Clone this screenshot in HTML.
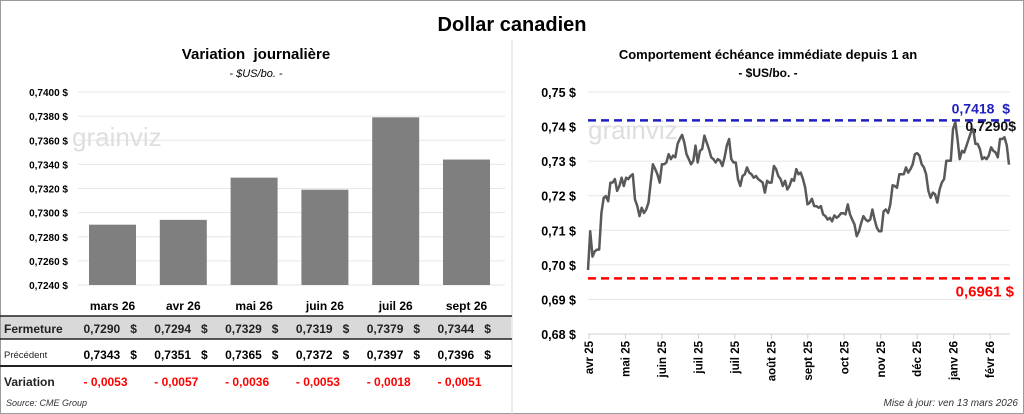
<!DOCTYPE html>
<html><head><meta charset="utf-8">
<style>
body{margin:0;background:#fff;font-family:"Liberation Sans",sans-serif;}
svg{display:block}
text{font-family:"Liberation Sans",sans-serif;white-space:pre;}
</style></head>
<body>
<svg width="1024" height="414" viewBox="0 0 1024 414">
<rect x="0.5" y="0.5" width="1023" height="413" fill="#fff" stroke="#9a9a9a"/>
<text x="512" y="31" text-anchor="middle" font-size="20" font-weight="bold">Dollar canadien</text>
<line x1="512" y1="40" x2="512" y2="414" stroke="#d8d8d8"/>
<text x="256" y="59" text-anchor="middle" font-size="15" font-weight="bold">Variation  journalière</text>
<text x="256" y="77" text-anchor="middle" font-size="11" font-style="italic">- $US/bo. -</text>
<text x="768" y="59" text-anchor="middle" font-size="13" font-weight="bold">Comportement échéance immédiate depuis 1 an</text>
<text x="768" y="77" text-anchor="middle" font-size="12" font-weight="bold">- $US/bo. -</text>
<g id="left"></g>
<g id="table"></g>
<g id="right"></g>
<text x="6" y="406" font-size="9" font-style="italic" fill="#333">Source: CME Group</text>
<text x="1018" y="406" text-anchor="end" font-size="10" font-style="italic" fill="#333">Mise à jour: ven 13 mars 2026</text>
</svg>
<script>
const NS="http://www.w3.org/2000/svg";
function mk(p,t,a,txt){const e=document.createElementNS(NS,t);for(const k in a)e.setAttribute(k,a[k]);if(txt!==undefined)e.textContent=txt;p.appendChild(e);return e;}

// Left bar chart data
const months=["mars 26","avr 26","mai 26","juin 26","juil 26","sept 26"];
const closeVals=[0.7290,0.7294,0.7329,0.7319,0.7379,0.7344];
const prevVals=[0.7343,0.7351,0.7365,0.7372,0.7397,0.7396];
const varLabels=["- 0,0053","- 0,0057","- 0,0036","- 0,0053","- 0,0018","- 0,0051"];
const yTicksL=[0.7240,0.7260,0.7280,0.7300,0.7320,0.7340,0.7360,0.7380,0.7400];

const L=document.getElementById('left');
const yL=v=>285-(v-0.7240)/0.0160*193;
const xL=i=>112.5+i*70.8;
const fmt4=v=>v.toFixed(4).replace('.',',');
yTicksL.forEach(v=>{
  const g=mk(L,'line',{x1:78,x2:505,y1:yL(v),y2:yL(v),stroke:'#e6e6e6'});
  
  
  const t=mk(L,'text',{x:68,y:yL(v)+4,'text-anchor':'end','font-size':10,'font-weight':'bold'},fmt4(v)+' $');
  
  
});
const wm=mk(L,'text',{x:72,y:146,'font-size':26,fill:'#dedede'},'grainviz');


closeVals.forEach((v,i)=>{
  const b=mk(L,'rect',{x:xL(i)-23.5,y:yL(v),width:47,height:285-yL(v),fill:'#7f7f7f'});
  
  
  const t=mk(L,'text',{x:xL(i),y:310,'text-anchor':'middle','font-size':12,'font-weight':'bold'},months[i]);
  
  
});

// table
const T=document.getElementById('table');
const r1=mk(T,'rect',{x:1,y:316,width:510,height:23,fill:'#d9d9d9'});


[[316,1.5],[339,1.5],[366,2]].forEach(([y,w])=>{
  const l=mk(T,'line',{x1:0,x2:512,y1:y,y2:y,stroke:'#222','stroke-width':w});
  
  
});
const h1=mk(T,'text',{x:4,y:333,'font-size':12,'font-weight':'bold',fill:'#222'},'Fermeture');


const h2=mk(T,'text',{x:4,y:358,'font-size':9.5,fill:'#222'},'Précédent');


const h3=mk(T,'text',{x:4,y:386,'font-size':12,'font-weight':'bold',fill:'#222'},'Variation');


months.forEach((m,i)=>{
  const x=xL(i);
  const a=mk(T,'text',{x:x-29,y:333,'font-size':12,'font-weight':'bold',fill:'#222'},fmt4(closeVals[i])+'   $');
  
  
  const b=mk(T,'text',{x:x-29,y:359,'font-size':12,'font-weight':'bold'},fmt4(prevVals[i])+'   $');
  
  
  const c=mk(T,'text',{x:x-29,y:386,'font-size':12,'font-weight':'bold',fill:'#ff0000'},varLabels[i]);
  
  
});

// Right line chart data
const dateLabels=["avr 25","mai 25","juin 25","juil 25","juil 25","août 25","sept 25","oct 25","nov 25","déc 25","janv 26","févr 26"];
const yTicksR=[0.68,0.69,0.70,0.71,0.72,0.73,0.74,0.75];
const highVal=0.7418, lowVal=0.6961, lastVal=0.7290;
const prices=[0.6985,0.7097,0.7024,0.7039,0.7044,0.7044,0.7150,0.7194,0.7199,0.7184,0.7238,0.7238,0.7248,0.7214,0.7228,0.7252,0.7228,0.7252,0.7248,0.7257,0.7262,0.7189,0.7170,0.7141,0.7165,0.7150,0.7160,0.7180,0.7238,0.7291,0.7277,0.7262,0.7238,0.7291,0.7291,0.7296,0.7320,0.7306,0.7316,0.7311,0.7350,0.7364,0.7376,0.7354,0.7320,0.7306,0.7291,0.7301,0.7345,0.7296,0.7330,0.7335,0.7374,0.7354,0.7335,0.7311,0.7306,0.7296,0.7306,0.7301,0.7286,0.7311,0.7345,0.7364,0.7306,0.7296,0.7296,0.7248,0.7228,0.7257,0.7262,0.7282,0.7267,0.7262,0.7252,0.7257,0.7248,0.7243,0.7238,0.7209,0.7243,0.7238,0.7238,0.7286,0.7277,0.7257,0.7248,0.7228,0.7243,0.7218,0.7228,0.7248,0.7243,0.7277,0.7262,0.7267,0.7248,0.7223,0.7175,0.7180,0.7191,0.7170,0.7170,0.7165,0.7170,0.7146,0.7141,0.7131,0.7136,0.7126,0.7143,0.7136,0.7141,0.7149,0.7149,0.7146,0.7175,0.7146,0.7131,0.7117,0.7083,0.7097,0.7121,0.7141,0.7131,0.7126,0.7131,0.7160,0.7131,0.7107,0.7097,0.7097,0.7155,0.7160,0.7150,0.7175,0.7230,0.7228,0.7223,0.7262,0.7262,0.7262,0.7282,0.7267,0.7277,0.7291,0.7320,0.7323,0.7316,0.7291,0.7282,0.7262,0.7214,0.7194,0.7209,0.7204,0.7180,0.7218,0.7238,0.7248,0.7301,0.7301,0.7301,0.7393,0.7413,0.7364,0.7306,0.7330,0.7325,0.7345,0.7364,0.7383,0.7393,0.7350,0.7350,0.7335,0.7306,0.7311,0.7306,0.7316,0.7340,0.7330,0.7325,0.7311,0.7364,0.7364,0.7369,0.7345,0.7290];

const R=document.getElementById('right');
const yR=v=>334-(v-0.68)/0.07*242;
const x0=588,x1=1009;
const xR=i=>x0+i*(x1-x0)/(prices.length-1);
yTicksR.forEach(v=>{
  const g=mk(R,'line',{x1:588,x2:1010,y1:yR(v),y2:yR(v),stroke:v===0.68?'#d0d0d0':'#e6e6e6'});
  
  
  const t=mk(R,'text',{x:576,y:yR(v)+5,'text-anchor':'end','font-size':12.5,'font-weight':'bold'},v.toFixed(2).replace('.',',')+' $');
  
  
});
const wm2=mk(R,'text',{x:588,y:139,'font-size':26,fill:'#dedede'},'grainviz');


dateLabels.forEach((d,i)=>{
  const x=589+i*36.47;
  const tk=mk(R,'line',{x1:x,x2:x,y1:334,y2:339,stroke:'#d0d0d0'});
  
  
  const t=mk(R,'text',{x:0,y:0,'text-anchor':'end','font-size':11.5,'font-weight':'bold',transform:`translate(${x+4},341) rotate(-90)`},d);
  
  
});
const hl=mk(R,'line',{x1:588,x2:1010,y1:yR(highVal),y2:yR(highVal),stroke:'#1f1fbf','stroke-width':2.5,'stroke-dasharray':'8,5'});


const ll=mk(R,'line',{x1:588,x2:1010,y1:yR(lowVal),y2:yR(lowVal),stroke:'#ff0000','stroke-width':2.5,'stroke-dasharray':'8,5'});


let d='';
prices.forEach((v,i)=>{d+=(i?'L':'M')+xR(i).toFixed(1)+','+yR(v).toFixed(1);});
const pl=mk(R,'path',{d:d,fill:'none',stroke:'#595959','stroke-width':2.5,'stroke-linejoin':'round'});


const fm=v=>v.toFixed(4).replace('.',',');
const ht=mk(R,'text',{x:1010,y:yR(highVal)-7,'text-anchor':'end','font-size':14,'font-weight':'bold',fill:'#1f1fbf'},fm(highVal)+'  $');


const lt=mk(R,'text',{x:1016,y:131,'text-anchor':'end','font-size':14,'font-weight':'bold',fill:'#111'},fm(lastVal)+'$');


const lo=mk(R,'text',{x:1014,y:yR(lowVal)+18,'text-anchor':'end','font-size':15,'font-weight':'bold',fill:'#ff0000'},fm(lowVal)+' $');


</script>
</body></html>
